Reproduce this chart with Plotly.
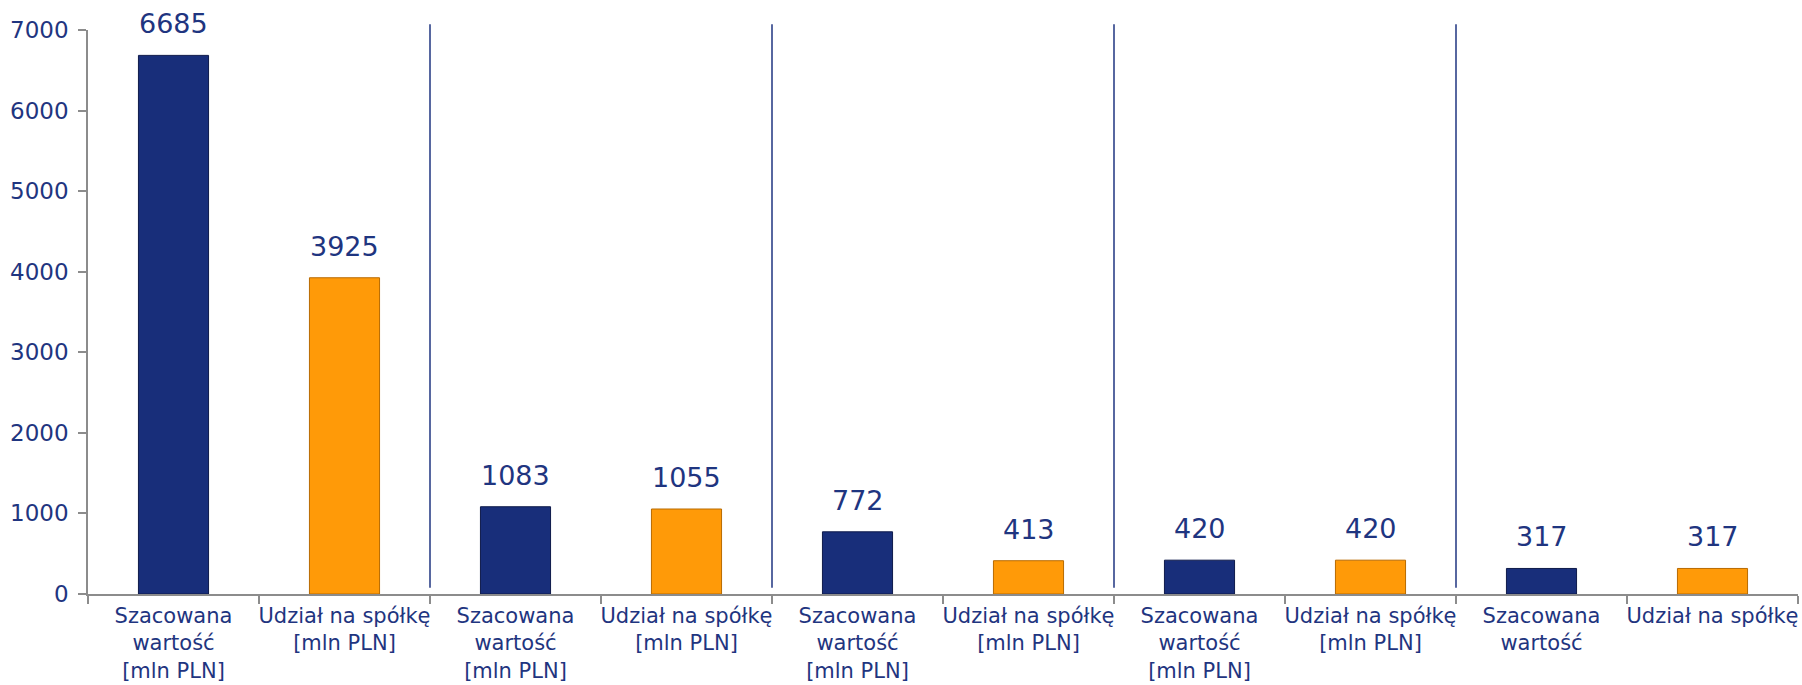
import plotly.graph_objects as go

categories = [
    "Szacowana<br>wartość<br>[mln PLN]", "Udział na spółkę<br>[mln PLN]",
    "Szacowana<br>wartość<br>[mln PLN]", "Udział na spółkę<br>[mln PLN]",
    "Szacowana<br>wartość<br>[mln PLN]", "Udział na spółkę<br>[mln PLN]",
    "Szacowana<br>wartość<br>[mln PLN]", "Udział na spółkę<br>[mln PLN]",
    "Szacowana<br>wartość", "Udział na spółkę",
]
values = [6685, 3925, 1083, 1055, 772, 413, 420, 420, 317, 317]
kinds = ["value", "share"] * 5
separators_after = [1, 3, 5, 7]
y_ticks = [0, 1000, 2000, 3000, 4000, 5000, 6000, 7000]

NAVY = "#182E7A"
ORANGE = "#FF9A08"
TEXT = "#1F3580"
FONT = "DejaVu Sans"

xs = list(range(len(values)))
colors = [NAVY if k == "value" else ORANGE for k in kinds]
lines = ["#0E1A4A" if k == "value" else "#B86A00" for k in kinds]

fig = go.Figure()
fig.add_trace(go.Bar(
    x=xs, y=values, width=0.41,
    marker=dict(color=colors, line=dict(color=lines, width=1)),
    hoverinfo="skip",
))

for x, v in zip(xs, values):
    fig.add_annotation(x=x, y=v, text=str(v), showarrow=False,
                       yanchor="bottom", yshift=14,
                       font=dict(family=FONT, size=27, color=TEXT))

for s in separators_after:
    fig.add_shape(type="line", xref="x", yref="paper",
                  x0=s + 0.5, x1=s + 0.5, y0=0.011, y1=1.01,
                  line=dict(color="#1F3580", width=1.5))

fig.update_layout(
    width=1802, height=685,
    margin=dict(l=88, r=4, t=30, b=91),
    paper_bgcolor="white", plot_bgcolor="white",
    showlegend=False,
    font=dict(family=FONT, color=TEXT),
    xaxis=dict(
        range=[-0.5, len(values) - 0.5],
        tickmode="array", tickvals=xs, ticktext=categories,
        ticks="", showgrid=False, zeroline=False,
        showline=True, linecolor="#8C8C8C", linewidth=1.5,
        tickfont=dict(family=FONT, size=21, color=TEXT),
        ticklabelstandoff=2, automargin=False, ticklabeloverflow="allow",
        minor=dict(tick0=-0.5, dtick=1, ticks="outside", ticklen=8,
                   tickcolor="#8C8C8C", tickwidth=1.5, showgrid=False),
    ),
    yaxis=dict(
        range=[0, 7000], tickmode="array", tickvals=y_ticks,
        ticks="outside", ticklen=8, tickcolor="#8C8C8C", tickwidth=1.5,
        showgrid=False, zeroline=False,
        showline=True, linecolor="#8C8C8C", linewidth=1.5,
        tickfont=dict(family=FONT, size=23, color=TEXT),
        ticklabelstandoff=5, automargin=False, ticklabeloverflow="allow",
    ),
)

fig.write_html("out.html")
